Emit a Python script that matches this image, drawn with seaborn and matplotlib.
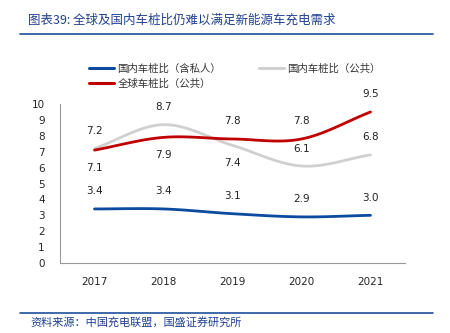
import numpy as np
import pandas as pd
import matplotlib
matplotlib.use("Agg")
import matplotlib.pyplot as plt
import seaborn as sns
from matplotlib.lines import Line2D

years = ["2017", "2018", "2019", "2020", "2021"]
domestic_all = [3.4, 3.4, 3.1, 2.9, 3.0]
domestic_public = [7.2, 8.7, 7.4, 6.1, 6.8]
global_public = [7.1, 7.9, 7.8, 7.8, 9.5]
series_names = ["国内车桩比（含私人）", "国内车桩比（公共）", "全球车桩比（公共）"]
y_ticks = [0, 1, 2, 3, 4, 5, 6, 7, 8, 9, 10]
title = "图表39: 全球及国内车桩比仍难以满足新能源车充电需求"
source = "资料来源：中国充电联盟，国盛证券研究所"

sns.set_theme(style="white")
plt.rcParams['font.family'] = ['Noto Sans CJK SC', 'DejaVu Sans']

colors = ["#0B4A9E", "#D0D0D0", "#C00000"]


def smooth(y, n=30):
    # Catmull-Rom smoothing for display only
    y = np.asarray(y, float)
    x = np.arange(len(y), dtype=float)
    px = np.concatenate([[2 * x[0] - x[1]], x, [2 * x[-1] - x[-2]]])
    py = np.concatenate([[2 * y[0] - y[1]], y, [2 * y[-1] - y[-2]]])
    xs, ys = [], []
    for i in range(1, len(px) - 2):
        t = np.linspace(0, 1, n, endpoint=(i == len(px) - 3))
        for P, out in ((px, xs), (py, ys)):
            p0, p1, p2, p3 = P[i - 1], P[i], P[i + 1], P[i + 2]
            out.extend(0.5 * ((2 * p1) + (-p0 + p2) * t + (2 * p0 - 5 * p1 + 4 * p2 - p3) * t ** 2
                              + (-p0 + 3 * p1 - 3 * p2 + p3) * t ** 3))
    return np.array(xs), np.array(ys)


fig = plt.figure(figsize=(4.5, 3.33), dpi=100)
ax = fig.add_axes([60 / 450, 1 - 263 / 333, 345 / 450, 159 / 333])

frames = []
for name, vals in zip(series_names, [domestic_all, domestic_public, global_public]):
    xs, ys = smooth(vals)
    frames.append(pd.DataFrame({"x": xs, "y": ys, "series": name}))
df = pd.concat(frames, ignore_index=True)

order = [series_names[1], series_names[0], series_names[2]]
for name in order:
    c = colors[series_names.index(name)]
    sns.lineplot(data=df[df.series == name], x="x", y="y", color=c, lw=2.0,
                 ax=ax, sort=False, legend=False)

# data labels
offsets = {
    0: [1, 1, 1, 1, 1],
    1: [1, 1, -1, 1, 1],
    2: [-1, -1, 1, 1, 1],
}
for si, vals in enumerate([domestic_all, domestic_public, global_public]):
    for i, v in enumerate(vals):
        d = offsets[si][i]
        ax.annotate(f"{v:.1f}", (i, v), xytext=(0, 9 * d), textcoords="offset points",
                    ha="center", va="bottom" if d > 0 else "top", fontsize=7.5,
                    family="DejaVu Sans", color="#222222")

ax.set_xlim(-0.5, 4.5)
ax.set_ylim(0, 10)
ax.set_yticks(y_ticks)
ax.set_yticklabels([str(t) for t in y_ticks], fontsize=7.5, family="DejaVu Sans")
ax.set_xticks(range(len(years)))
ax.set_xticklabels(years, fontsize=7.5, family="DejaVu Sans")
ax.set_xticks(np.arange(-0.5, 5, 1), minor=True)
ax.tick_params(axis="x", which="major", length=0, pad=10)
ax.tick_params(axis="x", which="minor", length=4, direction="in", color="#999999", width=0.8)
ax.tick_params(axis="y", which="major", length=3, direction="out", color="#999999", width=0.8, pad=8)
ax.set_xlabel("")
ax.set_ylabel("")
for s in ["top", "right"]:
    ax.spines[s].set_visible(False)
for s in ["left", "bottom"]:
    ax.spines[s].set_color("#999999")
    ax.spines[s].set_linewidth(0.8)

# legend (column-wise fill: row1 = blue, gray; row2 = red)
leg_idx = [0, 2, 1]
handles = [Line2D([], [], color=colors[i], lw=2.2) for i in leg_idx]
labels = [series_names[i] for i in leg_idx]
leg = fig.legend(handles, labels, loc="upper left", bbox_to_anchor=(80 / 450, 1 - 54 / 333),
                 ncol=2, frameon=False, fontsize=7.5, handlelength=2.4, handletextpad=0.3,
                 columnspacing=3.6, labelspacing=0.45)
for t in leg.get_texts():
    t.set_color("#333333")

# title and source
fig.text(28 / 450, 1 - 20 / 333, title, fontsize=9, color="#1F3F8F", style="italic", va="center")
fig.add_artist(Line2D([20 / 450, 433 / 450], [1 - 34 / 333] * 2, color="#1F4E9A", lw=1.2))
fig.add_artist(Line2D([20 / 450, 433 / 450], [1 - 313 / 333] * 2, color="#1F4E9A", lw=1.2))
fig.text(30 / 450, 1 - 323 / 333, source, fontsize=8, color="#1F3F8F", style="italic", va="center")

fig.savefig("out.png", dpi=100)
